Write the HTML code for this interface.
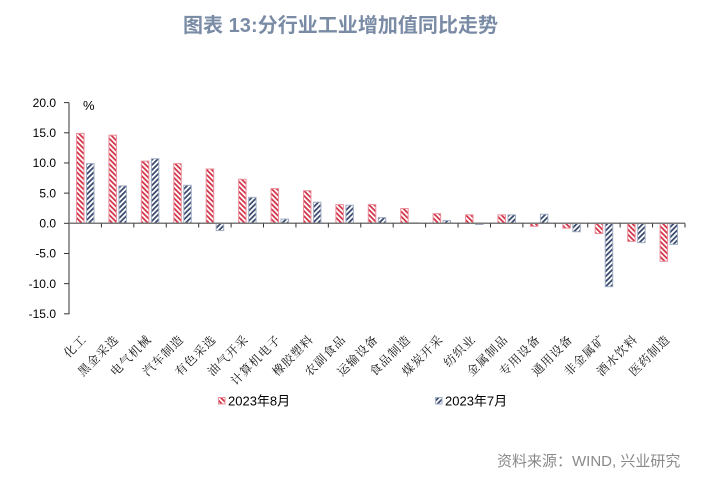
<!DOCTYPE html>
<html>
<head>
<meta charset="utf-8">
<style>
  html, body { margin:0; padding:0; background:#fff; }
  body { width:713px; height:482px; overflow:hidden; }
  svg { display:block; }
</style>
</head>
<body>
<svg width="713" height="482" viewBox="0 0 713 482" xmlns="http://www.w3.org/2000/svg">
  <defs>
    <pattern id="pr" patternUnits="userSpaceOnUse" width="3.6" height="3.6" patternTransform="rotate(-45)">
      <rect x="0" y="0" width="3.6" height="3.6" fill="#ffffff"/>
      <rect x="0" y="0" width="1.8" height="3.6" fill="#d3384c"/>
    </pattern>
    <pattern id="pb" patternUnits="userSpaceOnUse" width="3.6" height="3.6" patternTransform="rotate(45)">
      <rect x="0" y="0" width="3.6" height="3.6" fill="#ffffff"/>
      <rect x="0" y="0" width="1.8" height="3.6" fill="#3d4d70"/>
    </pattern>
  </defs>

  <!-- Title -->
  <text x="183" y="32" textLength="315" lengthAdjust="spacing" font-family="'Liberation Sans','Noto Sans CJK SC',sans-serif" font-size="20" font-weight="bold" fill="#7a8ba5">图表 13:分行业工业增加值同比走势</text>

  <!-- Y labels -->
  <g font-family="'Liberation Sans','Noto Sans CJK SC',sans-serif" font-size="12" fill="#000" text-anchor="end">
    <text x="56" y="106.8">20.0</text>
    <text x="56" y="137">15.0</text>
    <text x="56" y="167.1">10.0</text>
    <text x="56" y="197.3">5.0</text>
    <text x="56" y="227.5">0.0</text>
    <text x="56" y="257.7">-5.0</text>
    <text x="56" y="287.8">-10.0</text>
    <text x="56" y="318">-15.0</text>
  </g>
  <text x="83" y="110" font-family="'Liberation Sans',sans-serif" font-size="13" fill="#000">%</text>

  <!-- Red bars (2023年8月) -->
  <g fill="url(#pr)" stroke="#e98f9b" stroke-width="1">
    <rect x="76.51" y="133.38" width="7.5" height="89.92"/>
    <rect x="108.93" y="135.19" width="7.5" height="88.11"/>
    <rect x="141.35" y="161.14" width="7.5" height="62.16"/>
    <rect x="173.77" y="163.55" width="7.5" height="59.75"/>
    <rect x="206.19" y="168.98" width="7.5" height="54.32"/>
    <rect x="238.61" y="179.24" width="7.5" height="44.06"/>
    <rect x="271.03" y="188.6" width="7.5" height="34.7"/>
    <rect x="303.45" y="190.71" width="7.5" height="32.59"/>
    <rect x="335.87" y="204.59" width="7.5" height="18.71"/>
    <rect x="368.29" y="204.59" width="7.5" height="18.71"/>
    <rect x="400.71" y="208.51" width="7.5" height="14.79"/>
    <rect x="433.13" y="213.64" width="7.5" height="9.66"/>
    <rect x="465.55" y="214.85" width="7.5" height="8.45"/>
    <rect x="497.97" y="214.85" width="7.5" height="8.45"/>
    <rect x="530.39" y="223.3" width="7.5" height="3.02"/>
    <rect x="562.81" y="223.3" width="7.5" height="4.83"/>
    <rect x="595.23" y="223.3" width="7.5" height="10.26"/>
    <rect x="627.65" y="223.3" width="7.5" height="18.11"/>
    <rect x="660.07" y="223.3" width="7.5" height="38.02"/>
  </g>

  <!-- Blue bars (2023年7月) -->
  <g fill="url(#pb)" stroke="#a2aec4" stroke-width="1">
    <rect x="86.51" y="163.55" width="7.5" height="59.75"/>
    <rect x="118.93" y="185.88" width="7.5" height="37.42"/>
    <rect x="151.35" y="158.73" width="7.5" height="64.57"/>
    <rect x="183.77" y="185.28" width="7.5" height="38.02"/>
    <rect x="216.19" y="223.3" width="7.5" height="7.24"/>
    <rect x="248.61" y="197.35" width="7.5" height="25.95"/>
    <rect x="281.03" y="219.08" width="7.5" height="4.22"/>
    <rect x="313.45" y="202.18" width="7.5" height="21.12"/>
    <rect x="345.87" y="205.2" width="7.5" height="18.1"/>
    <rect x="378.29" y="217.57" width="7.5" height="5.73"/>
    <rect x="410.71" y="222.8" width="7.5" height="0.5"/>
    <rect x="443.13" y="220.58" width="7.5" height="2.72"/>
    <rect x="475.55" y="223.3" width="7.5" height="1.21"/>
    <rect x="507.97" y="214.85" width="7.5" height="8.45"/>
    <rect x="540.39" y="214.25" width="7.5" height="9.05"/>
    <rect x="572.81" y="223.3" width="7.5" height="8.45"/>
    <rect x="605.23" y="223.3" width="7.5" height="63.37"/>
    <rect x="637.65" y="223.3" width="7.5" height="19.31"/>
    <rect x="670.07" y="223.3" width="7.5" height="21.12"/>
  </g>

  <!-- Y axis -->
  <g stroke="#333" stroke-width="1">
    <line x1="69" y1="102.6" x2="69" y2="314.3"/>
    <line x1="64" y1="102.6" x2="69" y2="102.6"/>
    <line x1="64" y1="132.78" x2="69" y2="132.78"/>
    <line x1="64" y1="162.95" x2="69" y2="162.95"/>
    <line x1="64" y1="193.13" x2="69" y2="193.13"/>
    <line x1="64" y1="223.3" x2="69" y2="223.3"/>
    <line x1="64" y1="253.48" x2="69" y2="253.48"/>
    <line x1="64" y1="283.65" x2="69" y2="283.65"/>
    <line x1="64" y1="313.83" x2="69" y2="313.83"/>
  </g>

  <!-- X axis (zero line) -->
  <line x1="69" y1="223.3" x2="685" y2="223.3" stroke="#7a7a7a" stroke-width="1.5"/>
  <g stroke="#333" stroke-width="1">
    <line x1="101.42" y1="223.3" x2="101.42" y2="227.5"/>
    <line x1="133.84" y1="223.3" x2="133.84" y2="227.5"/>
    <line x1="166.26" y1="223.3" x2="166.26" y2="227.5"/>
    <line x1="198.68" y1="223.3" x2="198.68" y2="227.5"/>
    <line x1="231.1" y1="223.3" x2="231.1" y2="227.5"/>
    <line x1="263.52" y1="223.3" x2="263.52" y2="227.5"/>
    <line x1="295.94" y1="223.3" x2="295.94" y2="227.5"/>
    <line x1="328.36" y1="223.3" x2="328.36" y2="227.5"/>
    <line x1="360.78" y1="223.3" x2="360.78" y2="227.5"/>
    <line x1="393.2" y1="223.3" x2="393.2" y2="227.5"/>
    <line x1="425.62" y1="223.3" x2="425.62" y2="227.5"/>
    <line x1="458.04" y1="223.3" x2="458.04" y2="227.5"/>
    <line x1="490.46" y1="223.3" x2="490.46" y2="227.5"/>
    <line x1="522.88" y1="223.3" x2="522.88" y2="227.5"/>
    <line x1="555.3" y1="223.3" x2="555.3" y2="227.5"/>
    <line x1="587.72" y1="223.3" x2="587.72" y2="227.5"/>
    <line x1="620.14" y1="223.3" x2="620.14" y2="227.5"/>
    <line x1="652.56" y1="223.3" x2="652.56" y2="227.5"/>
    <line x1="684.98" y1="223.3" x2="684.98" y2="227.5"/>
  </g>

  <!-- X category labels -->
  <g font-family="'Liberation Serif','Noto Serif CJK SC','Noto Sans CJK SC',serif" font-size="12" letter-spacing="1" fill="#111" text-anchor="end">
    <text transform="translate(87.2,340) rotate(-45)">化工</text>
    <text transform="translate(119.6,340) rotate(-45)">黑金采选</text>
    <text transform="translate(152.1,340) rotate(-45)">电气机械</text>
    <text transform="translate(184.5,340) rotate(-45)">汽车制造</text>
    <text transform="translate(216.9,340) rotate(-45)">有色采选</text>
    <text transform="translate(249.3,340) rotate(-45)">油气开采</text>
    <text transform="translate(281.7,340) rotate(-45)">计算机电子</text>
    <text transform="translate(314.2,340) rotate(-45)">橡胶塑料</text>
    <text transform="translate(346.6,340) rotate(-45)">农副食品</text>
    <text transform="translate(379,340) rotate(-45)">运输设备</text>
    <text transform="translate(411.4,340) rotate(-45)">食品制造</text>
    <text transform="translate(443.8,340) rotate(-45)">煤炭开采</text>
    <text transform="translate(476.3,340) rotate(-45)">纺织业</text>
    <text transform="translate(508.7,340) rotate(-45)">金属制品</text>
    <text transform="translate(541.1,340) rotate(-45)">专用设备</text>
    <text transform="translate(573.5,340) rotate(-45)">通用设备</text>
    <text transform="translate(605.9,340) rotate(-45)">非金属矿</text>
    <text transform="translate(638.4,340) rotate(-45)">酒水饮料</text>
    <text transform="translate(670.8,340) rotate(-45)">医药制造</text>
  </g>

  <!-- Legend -->
  <rect x="218.5" y="397.5" width="6.5" height="6.5" fill="url(#pr)" stroke="#e98f9b" stroke-width="1"/>
  <text x="228" y="405.5" font-family="'Liberation Sans','Noto Sans CJK SC',sans-serif" font-size="13" fill="#000">2023年8月</text>
  <rect x="435.5" y="397.5" width="6.5" height="6.5" fill="url(#pb)" stroke="#a2aec4" stroke-width="1"/>
  <text x="445" y="405.5" font-family="'Liberation Sans','Noto Sans CJK SC',sans-serif" font-size="13" fill="#000">2023年7月</text>

  <!-- Source -->
  <text x="497" y="466" font-family="'Liberation Sans','Noto Sans CJK SC',sans-serif" font-size="15" fill="#8a8a8a">资料来源：WIND, 兴业研究</text>
</svg>
</body>
</html>
